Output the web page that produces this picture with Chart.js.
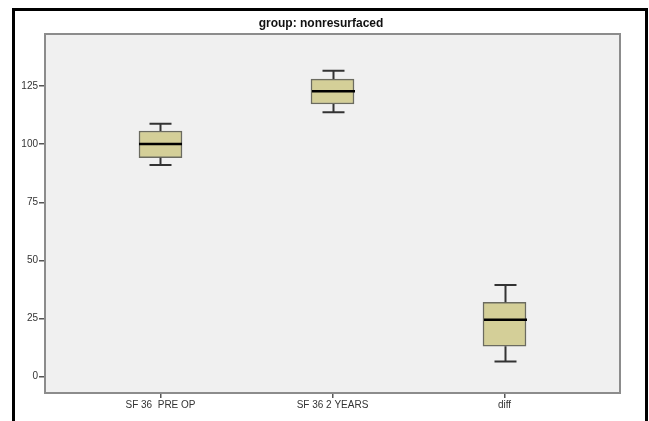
<!DOCTYPE html>
<html>
<head>
<meta charset="utf-8">
<script src="https://cdn.jsdelivr.net/npm/chart.js@4"></script>
<style>
  body { margin: 0; background: #fff; }
  #wrap { position: relative; width: 649px; height: 421px; overflow: hidden; }
  #frame { position: absolute; left: 12px; top: 8px; width: 630px; height: 440px; border: 3px solid #000; pointer-events: none; }
  canvas { position: absolute; left: 0; top: 0; }
</style>
</head>
<body>
<div id="wrap">
  <canvas id="boxChart" width="649" height="421"></canvas>
  <div id="frame"></div>
</div>
<script>
const chartTitle = "group: nonresurfaced";
const categories = ["SF 36  PRE OP", "SF 36 2 YEARS", "diff"];
const mins    = [91.1, 113.7, 6.6];
const q1s     = [94.2, 117.3, 13.1];
const medians = [100.1, 122.8, 24.5];
const q3s     = [105.7, 128.0, 32.0];
const maxs    = [108.8, 131.6, 39.4];
const yTicks  = [0, 25, 50, 75, 100, 125];

const boxData = categories.map((c, i) => ({ x: i + 1, y: [q1s[i], q3s[i]] }));

// plot background, frame and title
const framePlugin = {
  id: "framePlugin",
  beforeDraw(chart) {
    const { ctx, chartArea: a } = chart;
    ctx.save();
    ctx.fillStyle = "#f0f0f0";
    ctx.fillRect(a.left, a.top, a.right - a.left, a.bottom - a.top);
    ctx.restore();
  },
  afterDraw(chart) {
    const { ctx, chartArea: a } = chart;
    ctx.save();
    ctx.strokeStyle = "#8c8c8c";
    ctx.lineWidth = 2;
    ctx.strokeRect(a.left, a.top, a.right - a.left, a.bottom - a.top);
    ctx.fillStyle = "#111";
    ctx.font = "bold 12px 'Liberation Sans', Arial, sans-serif";
    ctx.textAlign = "center";
    ctx.textBaseline = "middle";
    ctx.fillText(chartTitle, 321, 24);
    ctx.restore();
  }
};

// whiskers and median lines
const whiskerPlugin = {
  id: "whiskerPlugin",
  afterDatasetsDraw(chart) {
    const { ctx, scales: { x, y } } = chart;
    const boxW = 43;
    const capW = 22;
    ctx.save();
    categories.forEach((c, i) => {
      const cx = Math.round(x.getPixelForValue(i + 1)) + 0.5;
      ctx.strokeStyle = "#333";
      ctx.lineWidth = 2;
      ctx.beginPath();
      ctx.moveTo(cx, y.getPixelForValue(q3s[i]));
      ctx.lineTo(cx, y.getPixelForValue(maxs[i]));
      ctx.moveTo(cx - capW / 2, y.getPixelForValue(maxs[i]));
      ctx.lineTo(cx + capW / 2, y.getPixelForValue(maxs[i]));
      ctx.moveTo(cx, y.getPixelForValue(q1s[i]));
      ctx.lineTo(cx, y.getPixelForValue(mins[i]));
      ctx.moveTo(cx - capW / 2, y.getPixelForValue(mins[i]));
      ctx.lineTo(cx + capW / 2, y.getPixelForValue(mins[i]));
      ctx.stroke();
      ctx.strokeStyle = "#000";
      ctx.lineWidth = 2.5;
      ctx.beginPath();
      ctx.moveTo(cx - boxW / 2, y.getPixelForValue(medians[i]));
      ctx.lineTo(cx + boxW / 2, y.getPixelForValue(medians[i]));
      ctx.stroke();
    });
    ctx.restore();
  }
};

const ctx = document.getElementById("boxChart").getContext("2d");
const boxChart = new Chart(ctx, {
  type: "bar",
  data: {
    datasets: [
      {
        data: boxData,
        backgroundColor: "#d4cf98",
        borderColor: "#6b6b60",
        borderWidth: 1.5,
        borderSkipped: false,
        barThickness: 43
      }
    ]
  },
  options: {
    responsive: false,
    animation: false,
    layout: { padding: { left: 0, right: 29, top: 34, bottom: 0 } },
    plugins: {
      legend: { display: false },
      tooltip: { enabled: false },
      title: { display: false }
    },
    scales: {
      x: {
        type: "linear",
        offset: false,
        min: 0.3285,
        max: 3.6715,
        afterBuildTicks(scale) {
          scale.ticks = categories.map((c, i) => ({ value: i + 1 }));
        },
        afterFit(scale) { scale.height = 28; },
        ticks: {
          autoSkip: false,
          maxRotation: 0,
          padding: 1,
          color: "#333",
          font: { family: "'Liberation Sans', Arial, sans-serif", size: 10 },
          callback: (v) => categories[v - 1]
        },
        grid: { offset: false, drawOnChartArea: false, drawTicks: true, tickLength: 5, color: "#555", lineWidth: 1.5 },
        border: { display: true, color: "#666", width: 2 }
      },
      y: {
        min: -7,
        max: 147.4,
        afterBuildTicks(scale) {
          scale.ticks = yTicks.map(v => ({ value: v }));
        },
        afterFit(scale) { scale.width = 45; },
        ticks: {
          padding: 1,
          color: "#333",
          font: { family: "'Liberation Sans', Arial, sans-serif", size: 10 }
        },
        grid: { drawOnChartArea: false, drawTicks: true, tickLength: 6, color: "#555", lineWidth: 1.5 },
        border: { display: true, color: "#666", width: 2 }
      }
    }
  },
  plugins: [framePlugin, whiskerPlugin]
});
</script>
</body>
</html>
